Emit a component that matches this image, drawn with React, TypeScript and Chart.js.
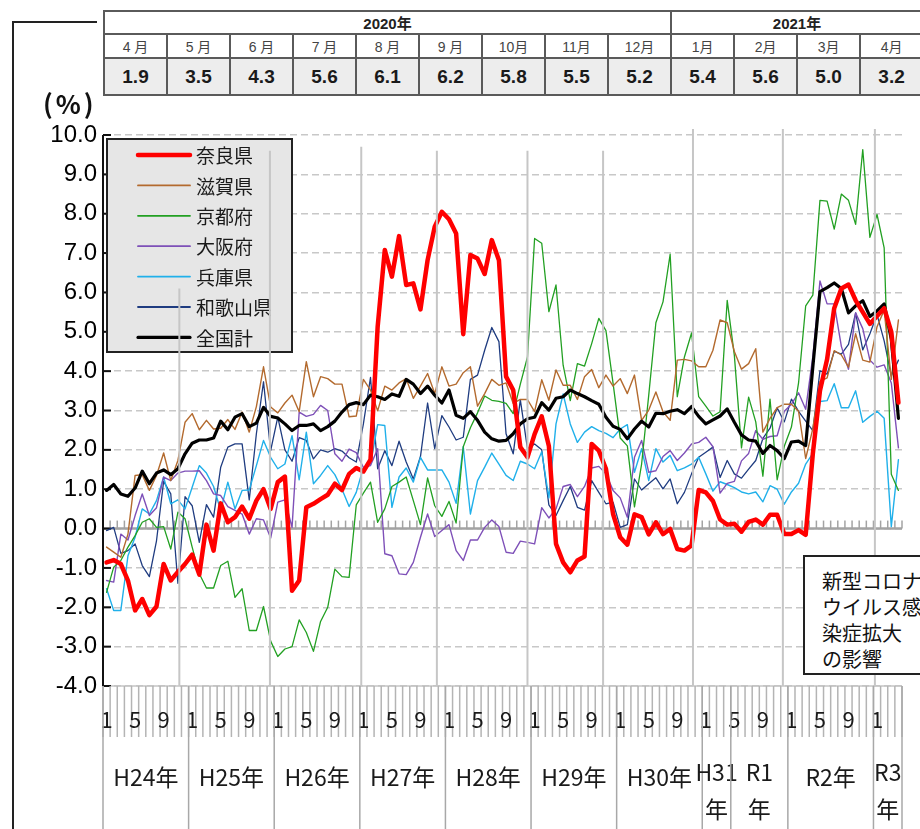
import React, { useEffect, useRef } from 'react';
import { Chart, registerables } from 'chart.js';

Chart.register(...registerables);

const FONT = "'Noto Sans CJK JP', 'Noto Sans', sans-serif";
const NUMFONT = "'Liberation Sans', 'Noto Sans CJK JP', sans-serif";

// ---- categories (multi-level axis) ----
const groupLabels = ['H24年', 'H25年', 'H26年', 'H27年', 'H28年', 'H29年', 'H30年', 'H31\n年', 'R1\n年', 'R2年', 'R3\n年'];
const groupFirstMonth = [1, 1, 1, 1, 1, 1, 1, 1, 5, 1, 1];
const groupLength = [12, 12, 12, 12, 12, 12, 12, 4, 8, 12, 4];
const shownMonthTicks = [1, 5, 9];

const monthNumbers: number[] = [];
const categories: string[] = [];
groupLength.forEach((len, g) => {
  for (let m = 0; m < len; m++) {
    const mon = groupFirstMonth[g] + m;
    monthNumbers.push(mon);
    categories.push(groupLabels[g].replace('\n', '') + mon + '月');
  }
});

// ---- series ----
const nara = [
  -0.86, -0.8, -0.9, -1.32, -2.08, -1.79, -2.2, -1.98, -0.9, -1.32, -1.1, -0.9,
  -0.66, -1.17, 0.1, -0.56, 0.64, 0.16, 0.29, 0.56, 0.25, 0.71, 1.0, 0.5,
  1.18, 1.32, -1.58, -1.32, 0.54, 0.63, 0.75, 0.86, 1.14, 0.98, 1.39, 1.54,
  1.45, 1.75, 5.13, 7.08, 6.4, 7.43, 6.19, 6.23, 5.57, 6.82, 7.67, 8.05,
  7.86, 7.5, 4.94, 6.95, 6.86, 6.47, 7.33, 6.82, 3.86, 3.52, 2.07, 1.81,
  2.4, 2.85, 2.1, -0.39, -0.86, -1.11, -0.81, -0.71, 2.15, 1.98, 1.52, 0.37,
  -0.22, -0.41, 0.36, 0.29, -0.15, 0.16, -0.14, -0.01, -0.52, -0.56, -0.43, 0.98,
  0.92, 0.7, 0.23, 0.1, 0.12, -0.08, 0.17, 0.23, 0.1, 0.35, 0.35, -0.14,
  -0.14, -0.04, -0.16, 1.9, 3.5, 4.3, 5.6, 6.1, 6.2, 5.8, 5.5, 5.2,
  5.4, 5.6, 5.0, 3.2,
];
const shiga = [
  -0.47, -0.6, -0.73, -0.14, 1.35, 1.37, 0.97, 1.35, 1.92, 1.22, 1.73, 2.7,
  2.92, 2.51, 2.75, 2.53, 2.55, 2.77, 2.52, 2.96, 2.45, 3.1, 4.11, 3.09,
  2.94, 3.19, 3.39, 2.97, 4.24, 3.35, 3.86, 3.81, 3.67, 3.67, 2.84, 2.86,
  3.79, 3.52, 2.99, 3.62, 3.52, 3.7, 3.81, 3.31, 3.62, 3.94, 3.43, 4.11,
  3.62, 3.67, 3.96, 4.11, 3.11, 3.43, 3.79, 3.64, 3.7, 3.18, 3.28, 3.28,
  2.97, 3.78, 3.26, 4.03, 3.64, 3.64, 3.28, 3.86, 4.04, 3.58, 3.9, 3.62,
  3.81, 3.43, 3.9, 2.75, 3.01, 3.47, 2.97, 2.75, 4.28, 4.3, 4.26, 4.11,
  4.11, 4.53, 5.3, 5.23, 4.5, 4.05, 4.19, 4.57, 2.45, 2.8, 3.07, 3.16,
  3.16, 2.98, 1.78, 2.54, 3.74, 3.83, 4.52, 4.41, 4.1, 4.95, 4.28, 4.23,
  5.13, 5.55, 3.79, 5.3,
];
const kyoto = [
  -1.62, -0.98, -0.81, -0.47, -0.18, 0.16, 0.25, 0.03, 0.05, -0.52, 0.42, 0.25,
  -0.47, -1.15, -1.51, -1.51, -0.94, -0.83, -1.75, -1.53, -2.59, -2.59, -1.98, -2.86,
  -3.25, -3.06, -3.0, -2.32, -2.64, -3.12, -2.36, -2.0, -1.03, -1.22, -1.24, 0.6,
  0.9, 1.18, 0.16, 0.5, 1.07, 1.18, 1.31, 0.71, 0.1, 1.29, 0.58, 0.31,
  0.69, 0.14, 2.08, 2.56, 2.94, 3.37, 3.26, 3.23, 3.18, 2.92, 3.67, 4.36,
  7.37, 7.25, 5.51, 6.19, 4.15, 3.25, 4.19, 4.13, 4.7, 5.34, 5.03, 3.69,
  2.3, 2.1, 0.55, 1.64, 3.39, 5.23, 5.76, 6.97, 3.35, 4.36, 4.97, 3.35,
  3.11, 2.86, 2.97, 5.8, 4.4, 2.05, 3.34, 2.71, 1.33, 3.29, 1.24, 2.09,
  2.58, 3.7, 5.66, 5.93, 8.34, 8.32, 7.61, 8.5, 8.34, 7.73, 9.63, 7.4,
  7.98, 7.13, 1.38, 0.97,
];
const osaka = [
  -1.32, -1.36, -0.14, -0.29, 0.33, 0.88, 0.33, 0.53, 1.31, 1.22, 1.41, 1.46,
  1.46, 1.47, 1.22, 0.88, 0.84, 0.56, 0.46, 0.37, -0.14, 0.25, 0.22, -0.24,
  0.67, 0.73, 0.03, 2.96, 2.85, 2.9, 3.13, 3.0, 1.9, 1.71, 2.02, 1.93,
  1.55, 1.6, 2.03, -0.64, -0.69, -1.15, -1.17, -0.86, -0.22, 0.37, -0.2, -0.05,
  0.1, -0.56, -0.81, -0.29, -0.29, 0.03, 0.22, 0.05, -0.6, -0.63, -0.32, -0.35,
  -0.39, 0.53, 0.27, 0.5, 1.07, 1.12, 0.81, 1.07, 1.54, 1.58, 1.39, 0.97,
  0.78, 0.29, 1.81, 2.24, 1.43, 1.47, 1.83, 1.98, 1.73, 1.92, 2.15, 2.19,
  2.32, 2.08, 0.9, 1.15, 1.2, 1.72, 1.91, 2.49, 2.27, 2.34, 2.36, 2.98,
  3.16, 3.45, 3.03, 4.37, 6.29, 5.71, 5.71, 4.63, 4.05, 5.48, 5.08, 4.28,
  4.1, 4.16, 3.7, 2.05,
];
const hyogo = [
  -1.53, -2.08, -2.08, -0.69, -0.22, 0.5, 0.37, 0.71, 1.31, 0.63, 0.73, 0.5,
  1.05, 1.6, 1.41, 1.07, 0.46, 1.18, 0.5, 0.97, 0.98, 1.6, 2.24, 1.81,
  1.52, 1.64, 2.36, 1.24, 2.45, 1.14, 1.35, 1.6, 1.37, 1.0, 0.56, 0.92,
  1.55, 1.64, 2.64, 2.62, 0.54, 1.31, 1.54, 1.18, 1.81, 1.49, 1.49, 1.49,
  1.18, 0.64, 2.08, 0.37, 1.22, 1.56, 1.92, 1.64, 1.35, 1.22, 1.71, 1.64,
  1.52, 1.95, 0.78, 2.66, 3.42, 2.66, 2.19, 2.45, 2.59, 2.49, 2.42, 2.31,
  2.53, 2.64, 1.43, 2.03, 1.22, 2.03, 1.69, 1.86, 1.47, 1.54, 1.64, 1.81,
  1.39, 0.95, 1.19, 1.12, 1.04, 0.93, 0.88, 0.93, 0.68, 1.09, 1.0, 0.62,
  0.93, 1.15, 1.64, 1.91, 3.23, 3.25, 3.68, 3.07, 3.07, 3.5, 2.7, 2.85,
  2.98, 2.8, 0.05, 1.75,
];
const wakayama = [
  -0.05, 0.03, -0.63, -0.56, -0.39, -0.94, -1.22, -0.31, 1.2, 0.88, -1.39, 0.81,
  0.58, -0.35, 0.61, 0.29, 1.56, 2.07, 2.15, 2.15, 0.73, 2.41, 3.73, 1.98,
  2.83, 2.0, 1.71, 2.31, 2.24, 1.77, 2.0, 1.94, 2.03, 1.97, 1.8, 1.69,
  2.66, 3.84, 1.52, 1.98, 1.6, 2.22, 1.69, 1.26, 1.83, 3.19, 2.03, 2.87,
  2.58, 2.25, 2.32, 3.79, 3.9, 4.53, 5.11, 4.75, 2.41, 1.9, 3.27, 2.03,
  2.15, 2.0, 0.6, 0.33, 0.71, 1.07, 0.54, 0.47, 1.22, 0.92, 0.63, 0.67,
  0.03, 0.1, 1.26, 0.98, 1.14, 1.29, 1.01, 1.26, 0.63, 0.92, 1.39, 1.81,
  1.94, 2.07, 1.3, 1.73, 1.39, 1.28, 1.51, 1.73, 2.29, 2.55, 3.07, 2.71,
  3.29, 2.98, 2.73, 2.49, 4.01, 3.92, 4.5, 4.43, 4.68, 5.48, 4.54, 4.95,
  5.44, 4.77, 3.88, 4.28,
];
const national = [
  0.97, 1.12, 0.88, 0.82, 1.03, 1.46, 1.14, 1.41, 1.49, 1.37, 1.52, 1.9,
  2.17, 2.25, 2.25, 2.3, 2.73, 2.51, 2.83, 2.92, 2.59, 2.68, 3.08, 2.85,
  2.81, 2.66, 2.49, 2.62, 2.62, 2.66, 2.49, 2.59, 2.73, 2.96, 3.15, 3.2,
  3.15, 3.39, 3.35, 3.28, 3.42, 3.36, 3.79, 3.67, 3.43, 3.62, 3.39, 3.19,
  3.52, 2.88, 2.8, 2.97, 2.75, 2.45, 2.28, 2.22, 2.24, 2.41, 2.66, 2.79,
  2.83, 3.2, 3.01, 3.31, 3.35, 3.52, 3.43, 3.35, 3.25, 3.16, 2.83, 2.6,
  2.52, 2.28, 2.53, 2.73, 2.58, 2.93, 2.92, 2.98, 3.02, 2.92, 3.1, 2.85,
  2.66, 2.76, 2.86, 3.04, 2.7, 2.38, 2.25, 2.22, 1.91, 2.11, 1.98, 1.78,
  2.2, 2.22, 2.11, 4.1, 6.02, 6.12, 6.24, 6.1, 5.48, 5.66, 5.79, 5.39,
  5.53, 5.71, 4.81, 2.8,
];

const seriesNames = ['奈良県', '滋賀県', '京都府', '大阪府', '兵庫県', '和歌山県', '全国計'];
const seriesValues = [nara, shiga, kyoto, osaka, hyogo, wakayama, national];
const seriesColors = ['#FF0000', '#B36A2E', '#22A022', '#7E50B8', '#20B0EA', '#1F3C80', '#000000'];
const seriesWidths = [4.5, 1.4, 1.3, 1.4, 1.4, 1.3, 3.2];
const seriesOrder = [0, 2, 3, 4, 5, 6, 1];

// ---- y axis ----
const yMin = -4;
const yMax = 10;
const yStep = 1;

// ---- grey marker lines (position in month index, top in %) ----
const markerAt = [10.2, 22.9, 35.7, 46.3, 59.0, 69.6, 82.2, 94.8, 107.7];
const markerTop = [6.1, 9.6, 9.7, 9.6, 9.6, 9.6, 10.15, 10.15, 10.15];

// ---- table ----
const tableYearLabels = ['2020年', '2021年'];
const tableYearSpans = [9, 4];
const tableMonths = ['4 月', '5 月', '6 月', '7 月', '8 月', '9 月', '10月', '11月', '12月', '1月', '2月', '3月', '4月'];
const tableValues = nara.slice(nara.length - tableMonths.length);

const noteLines = ['新型コロナ', 'ウイルス感', '染症拡大', 'の影響'];

const decorPlugin = {
  id: 'decor',
  beforeDatasetsDraw(chart: any) {
    const { ctx, chartArea: a, scales } = chart;
    const x = scales.x;
    const y = scales.y;
    const n = categories.length;
    ctx.save();
    const line = (x1: number, y1: number, x2: number, y2: number) => {
      ctx.beginPath();
      ctx.moveTo(x1, y1);
      ctx.lineTo(x2, y2);
      ctx.stroke();
    };
    const y0 = y.getPixelForValue(0);
    ctx.strokeStyle = '#a3a3a3';
    ctx.lineWidth = 2.5;
    line(a.left, y0, a.right, y0);
    ctx.lineWidth = 1.5;
    for (let k = 0; k <= n; k++) {
      const px = x.getPixelForValue(k - 0.5);
      line(px, y0 - 8, px, y0);
    }
    ctx.strokeStyle = '#c4c4c4';
    ctx.lineWidth = 1.5;
    line(a.left, a.bottom, a.right, a.bottom);
    ctx.strokeStyle = '#111';
    ctx.lineWidth = 2;
    line(a.left, a.top, a.left, a.bottom);
    y.ticks.forEach((t: any) => {
      const py = y.getPixelForValue(t.value);
      line(a.left, py, a.left + 8, py);
    });
    ctx.restore();
  },
  afterDatasetsDraw(chart: any) {
    const { ctx, scales } = chart;
    const x = scales.x;
    const y = scales.y;
    ctx.save();
    const lx = 107, ly = 139, lw = 185, lh = 213;
    ctx.fillStyle = '#e6e6e6';
    ctx.fillRect(lx, ly, lw, lh);
    ctx.strokeStyle = '#222';
    ctx.lineWidth = 2;
    ctx.strokeRect(lx, ly, lw, lh);
    ctx.font = `19px ${FONT}`;
    ctx.textBaseline = 'middle';
    ctx.textAlign = 'left';
    chart.data.datasets.forEach((ds: any, k: number) => {
      const cy = ly + 16 + k * 30.4;
      ctx.strokeStyle = ds.borderColor;
      ctx.lineWidth = Math.max(ds.borderWidth, 1.8);
      ctx.lineCap = 'round';
      ctx.beginPath();
      ctx.moveTo(138, cy);
      ctx.lineTo(190, cy);
      ctx.stroke();
      ctx.fillStyle = '#1a1a1a';
      ctx.fillText(ds.label, 196, cy + 1);
    });
    ctx.strokeStyle = '#c6c6c6';
    ctx.lineWidth = 2;
    ctx.lineCap = 'butt';
    markerAt.forEach((m, i) => {
      const px = x.getPixelForValue(m);
      ctx.beginPath();
      ctx.moveTo(px, y.getPixelForValue(markerTop[i]));
      ctx.lineTo(px, chart.chartArea.bottom);
      ctx.stroke();
    });
    ctx.restore();
  },
  afterDraw(chart: any) {
    const { ctx, chartArea: a, scales } = chart;
    const x = scales.x;
    const n = categories.length;
    const H = chart.height;
    const tickBottom = a.bottom + 51;
    ctx.save();
    const line = (x1: number, y1: number, x2: number, y2: number) => {
      ctx.beginPath();
      ctx.moveTo(x1, y1);
      ctx.lineTo(x2, y2);
      ctx.stroke();
    };
    ctx.strokeStyle = '#b4b4b4';
    ctx.lineWidth = 1.5;
    for (let k = 0; k <= n; k++) {
      const px = x.getPixelForValue(k - 0.5);
      line(px, a.bottom, px, tickBottom);
    }
    ctx.fillStyle = '#1a1a1a';
    ctx.font = `22px ${FONT}`;
    ctx.textAlign = 'center';
    ctx.textBaseline = 'middle';
    monthNumbers.forEach((m, i) => {
      if (shownMonthTicks.includes(m)) {
        ctx.fillText(String(m), x.getPixelForValue(i), a.bottom + 34);
      }
    });
    let start = 0;
    ctx.strokeStyle = '#a8a8a8';
    ctx.font = `23px ${FONT}`;
    groupLength.forEach((len, g) => {
      const left = x.getPixelForValue(start - 0.5);
      const right = x.getPixelForValue(start + len - 0.5);
      line(left, a.bottom, left, H);
      if (g === groupLength.length - 1) line(right, a.bottom, right, H);
      const parts = groupLabels[g].split('\n');
      const cx = (left + right) / 2;
      if (parts.length === 1) {
        ctx.fillText(parts[0], cx, a.bottom + 91);
      } else {
        ctx.fillText(parts[0], cx, a.bottom + 86);
        ctx.fillText(parts[1], cx, a.bottom + 123);
      }
      start += len;
    });
    ctx.restore();
  },
};

export default function App() {
  const ref = useRef<HTMLCanvasElement>(null);
  useEffect(() => {
    document.body.style.margin = '0';
    const chart = new Chart(ref.current as HTMLCanvasElement, {
      type: 'line',
      data: {
        labels: categories,
        datasets: seriesNames.map((name, k) => ({
          label: name,
          data: seriesValues[k],
          borderColor: seriesColors[k],
          backgroundColor: seriesColors[k],
          borderWidth: seriesWidths[k],
          pointRadius: 0,
          tension: 0,
          fill: false,
          order: seriesOrder[k],
          borderJoinStyle: 'round',
          borderCapStyle: 'round',
        })) as any,
      },
      options: {
        animation: false,
        responsive: false,
        events: [],
        layout: { padding: { left: 0, top: 135, right: 18, bottom: 143 } },
        plugins: { legend: { display: false }, tooltip: { enabled: false }, title: { display: false } },
        scales: {
          x: { type: 'category', offset: true, display: false },
          y: {
            type: 'linear',
            min: yMin,
            max: yMax,
            afterFit: (s: any) => { s.width = 103; },
            ticks: {
              stepSize: yStep,
              callback: (v: any) => Number(v).toFixed(1),
              color: '#000',
              padding: 6,
              font: { family: NUMFONT, size: 24 },
            },
            grid: { color: '#c8c8c8', lineWidth: 1.5, drawTicks: false },
            border: { display: false, dash: [7, 4] },
          },
        },
      } as any,
      plugins: [decorPlugin],
    });
    return () => chart.destroy();
  }, []);

  const cell: React.CSSProperties = {
    border: '2px solid #5a5a5a',
    padding: 0,
    textAlign: 'center',
    verticalAlign: 'middle',
    fontFamily: NUMFONT,
  };

  return (
    <div style={{ position: 'fixed', left: 0, top: 0, width: 920, height: 829, overflow: 'hidden', background: '#fff' }}>
      <div style={{ position: 'absolute', left: 12, top: 21, width: 1200, height: 1200, borderLeft: '2px solid #222', borderTop: '2px solid #222' }} />
      <canvas ref={ref} width={920} height={829} style={{ position: 'absolute', left: 0, top: 0 }} />
      <div style={{ position: 'absolute', left: 97, top: 0, width: 840, height: 97, background: '#fff' }} />
      <table style={{ position: 'absolute', left: 103, top: 10, borderCollapse: 'collapse', tableLayout: 'fixed', width: 63 * tableMonths.length, background: '#fff' }}>
        <colgroup>
          {tableMonths.map((_, i) => <col key={i} style={{ width: 63 }} />)}
        </colgroup>
        <tbody>
          <tr style={{ height: 23 }}>
            {tableYearLabels.map((yl, i) => (
              <td key={i} colSpan={tableYearSpans[i]} style={{ ...cell, fontWeight: 700, fontSize: 15, color: '#222' }}>{yl}</td>
            ))}
          </tr>
          <tr style={{ height: 24 }}>
            {tableMonths.map((m, i) => (
              <td key={i} style={{ ...cell, fontSize: 14, color: '#444' }}>{m}</td>
            ))}
          </tr>
          <tr style={{ height: 37 }}>
            {tableValues.map((v, i) => (
              <td key={i} style={{ ...cell, fontSize: 19, fontWeight: 700, color: '#1a1a1a', background: '#ededed' }}>{v.toFixed(1)}</td>
            ))}
          </tr>
        </tbody>
      </table>
      <div style={{ position: 'absolute', left: 43, top: 84, fontFamily: FONT, fontSize: 26, fontWeight: 700, letterSpacing: 3, color: '#111' }}>(%)</div>
      <div style={{ position: 'absolute', left: 803, top: 555, width: 150, height: 120, border: '2px solid #222', background: '#fff', boxSizing: 'border-box', padding: '11px 0 0 17px', fontFamily: FONT, fontSize: 20, lineHeight: '26px', color: '#111', whiteSpace: 'nowrap' }}>
        {noteLines.map((t, i) => <div key={i}>{t}</div>)}
      </div>
    </div>
  );
}
